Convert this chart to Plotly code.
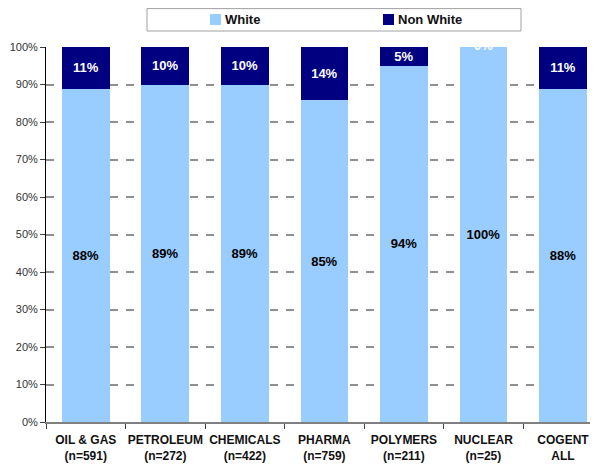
import plotly.graph_objects as go

categories = ["OIL & GAS<br>(n=591)", "PETROLEUM<br>(n=272)", "CHEMICALS<br>(n=422)",
              "PHARMA<br>(n=759)", "POLYMERS<br>(n=211)", "NUCLEAR<br>(n=25)", "COGENT<br>ALL"]
white = [88, 89, 89, 85, 94, 100, 88]
non_white = [11, 10, 10, 14, 5, 0, 11]
y_ticks = [0, 10, 20, 30, 40, 50, 60, 70, 80, 90, 100]
y_ticklabels = [f"{v}%" for v in y_ticks]
series_names = ["White", "Non White"]
series_colors = ["#99CCFF", "#000080"]

FONT = "Liberation Sans, Arial, sans-serif"

# page is offset by 8px (body margin); plot area: x 46..598, y 47..422 in page px
OFF = 8
L, R, T, B = 46, 598, 47, 422
W, H = 598 - OFF, 466 - OFF


def px(x):
    return (x - L) / (R - L)


def py(y):
    return (B - y) / (B - T)


fig = go.Figure()
fig.add_trace(go.Bar(
    x=categories, y=white, name=series_names[0], marker_color=series_colors[0],
    marker_line_width=0,
    text=[f"{v}%" for v in white], textposition="inside", insidetextanchor="middle",
    textfont=dict(color="black", size=13, family=FONT, weight="bold"), textangle=0,
))
fig.add_trace(go.Bar(
    x=categories, y=non_white, name=series_names[1], marker_color=series_colors[1],
    marker_line_width=0,
    text=[f"{v}%" if v > 0 else "" for v in non_white], textposition="inside",
    insidetextanchor="middle",
    textfont=dict(color="white", size=13, family=FONT, weight="bold"), textangle=0,
))
# zero-height segment label (at the top of the stack, clipped by the plot area)
zero_x = [c for c, v in zip(categories, non_white) if v == 0]
fig.add_trace(go.Scatter(
    x=zero_x, y=[100] * len(zero_x), mode="text",
    text=["0%"] * len(zero_x),
    textfont=dict(color="white", size=13, family=FONT, weight="bold"),
    showlegend=False, cliponaxis=True, hoverinfo="skip",
))

# custom legend box
shapes = [dict(type="rect", xref="paper", yref="paper",
               x0=px(147), x1=px(521), y0=py(31), y1=py(8.6),
               line=dict(color="#A0A0A0", width=1), fillcolor="white", layer="above")]
annotations = []
for name, color, sx in zip(series_names, series_colors, [210, 383]):
    shapes.append(dict(type="rect", xref="paper", yref="paper",
                       x0=px(sx), x1=px(sx + 11), y0=py(25), y1=py(14),
                       line=dict(width=0), fillcolor=color, layer="above"))
    annotations.append(dict(xref="paper", yref="paper", x=px(sx + 13), y=py(19.5),
                            xanchor="left", yanchor="middle", showarrow=False,
                            text=f"<b>{name}</b>",
                            font=dict(size=13, family=FONT, color="#111")))

fig.update_layout(
    barmode="stack", barnorm="percent", bargap=0.4,
    width=W, height=H,
    margin=dict(l=L - OFF, r=0, t=T - OFF, b=H - (B - OFF), autoexpand=False),
    paper_bgcolor="white", plot_bgcolor="white",
    font=dict(family=FONT, size=11, color="#222"),
    uniformtext=dict(minsize=13, mode="show"),
    showlegend=False,
    shapes=shapes, annotations=annotations,
)
fig.update_xaxes(
    type="category", range=[-0.5, 6.44], automargin=False, tickangle=0,
    showline=True, linecolor="#808080", linewidth=2,
    ticks="outside", tickson="boundaries", ticklen=5, tickcolor="#404040",
    ticklabelstandoff=6,
    tickfont=dict(size=12, family=FONT, color="#111", weight="bold"),
    showgrid=False,
)
fig.update_yaxes(
    range=[0, 100], tickvals=y_ticks, ticktext=y_ticklabels, automargin=False,
    showline=True, linecolor="black", linewidth=1,
    ticks="outside", ticklen=5, tickcolor="#404040",
    tickfont=dict(size=11, family=FONT, color="#333"),
    showgrid=True, gridcolor="#909090", griddash="8px,8px", gridwidth=1.5,
    zeroline=False,
)

fig.write_html("out.html")
